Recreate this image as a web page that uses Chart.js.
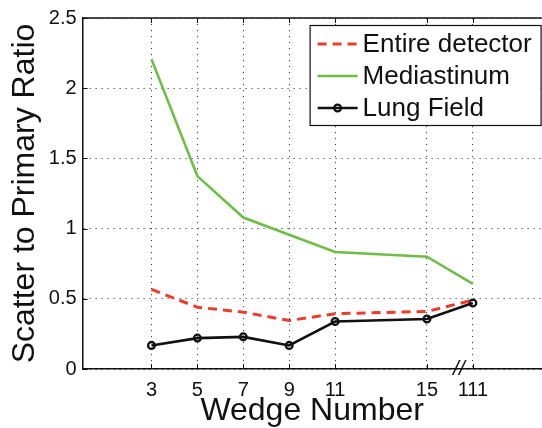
<!DOCTYPE html>
<html><head><meta charset="utf-8">
<script src="https://cdn.jsdelivr.net/npm/chart.js@4"></script>
<style>html,body{margin:0;padding:0;background:#fff;overflow:hidden}canvas{display:block}</style>
</head><body>
<canvas id="c" width="548" height="428"></canvas>
<script>
const wedgeNumbers = [3, 5, 7, 9, 11, 15, 111];
const entireDetector = [0.567, 0.44, 0.405, 0.345, 0.394, 0.41, 0.49];
const mediastinum = [2.207, 1.374, 1.079, 0.956, 0.833, 0.80, 0.607];
const lungField = [0.168, 0.22, 0.229, 0.168, 0.338, 0.356, 0.47];
const yTicks = [0, 0.5, 1, 1.5, 2, 2.5];
const yTickLabels = ['0', '0.5', '1', '1.5', '2', '2.5'];
const seriesNames = ['Entire detector', 'Mediastinum', 'Lung Field'];

// Broken x axis: wedge 111 is placed one step after 15
const lastRegular = 15, step = 2;
function axisPos(w) { return w > lastRegular ? lastRegular + step : w; }
const xTickPos = wedgeNumbers.map(axisPos);
const breakPos = lastRegular + step / 2;

const RED = 'rgb(238,60,44)', GREEN = 'rgb(110,190,70)', BLACK = '#111';
const FONT = '"Liberation Sans", Arial, Helvetica, sans-serif';

function pts(vals) { return wedgeNumbers.map((w, i) => ({ x: axisPos(w), y: vals[i] })); }

const frame = {
  id: 'frame',
  afterDraw(chart) {
    const ctx = chart.ctx, a = chart.chartArea;
    const xs = chart.scales.x, ys = chart.scales.y;
    ctx.save();
    ctx.strokeStyle = '#111';
    ctx.lineWidth = 1.5;
    ctx.beginPath();
    ctx.moveTo(a.left, a.top); ctx.lineTo(a.right, a.top);
    ctx.stroke();
    // inward tick marks
    ctx.lineWidth = 1;
    ctx.beginPath();
    xTickPos.forEach(v => {
      const px = Math.round(xs.getPixelForValue(v)) + 0.5;
      ctx.moveTo(px, a.bottom); ctx.lineTo(px, a.bottom - 5);
      ctx.moveTo(px, a.top); ctx.lineTo(px, a.top + 5);
    });
    yTicks.forEach(v => {
      const py = Math.round(ys.getPixelForValue(v)) + 0.5;
      ctx.moveTo(a.left, py); ctx.lineTo(a.left + 5, py);
    });
    ctx.stroke();
    // axis break mark
    ctx.fillStyle = '#111';
    ctx.font = 'italic 21px ' + FONT;
    ctx.textAlign = 'center';
    ctx.textBaseline = 'middle';
    ctx.fillText('//', xs.getPixelForValue(breakPos) + 9, a.bottom);

    // legend
    const bw = 231, bh = 100;
    const bx = a.left + 227, by = a.top + 7;
    ctx.fillStyle = '#fff';
    ctx.fillRect(bx, by, bw, bh);
    ctx.strokeStyle = '#111';
    ctx.lineWidth = 1.2;
    ctx.strokeRect(bx + 0.5, by + 0.5, bw, bh);
    ctx.font = '26px ' + FONT;
    ctx.textAlign = 'left';
    ctx.textBaseline = 'middle';
    chart.data.datasets.forEach((ds, i) => {
      const cy = by + 19 + i * 32;
      const x0 = bx + 8, x1 = bx + 48;
      ctx.save();
      ctx.strokeStyle = ds.borderColor;
      ctx.lineWidth = ds.borderWidth;
      ctx.setLineDash(ds.borderDash || []);
      ctx.beginPath(); ctx.moveTo(x0, cy); ctx.lineTo(x1, cy); ctx.stroke();
      ctx.setLineDash([]);
      if (ds.pointRadius > 0) {
        ctx.beginPath();
        ctx.arc((x0 + x1) / 2, cy, ds.pointRadius, 0, Math.PI * 2);
        ctx.lineWidth = ds.pointBorderWidth;
        ctx.stroke();
      }
      ctx.restore();
      ctx.fillStyle = '#111';
      ctx.fillText(ds.label, x1 + 5, cy + 1);
    });
    ctx.restore();
  }
};

new Chart(document.getElementById('c'), {
  type: 'line',
  data: {
    datasets: [
      { label: seriesNames[0], data: pts(entireDetector), borderColor: RED, borderWidth: 3,
        borderDash: [9, 6], pointRadius: 0, fill: false, tension: 0 },
      { label: seriesNames[1], data: pts(mediastinum), borderColor: GREEN, borderWidth: 2.6,
        pointRadius: 0, fill: false, tension: 0 },
      { label: seriesNames[2], data: pts(lungField), borderColor: BLACK, borderWidth: 2.6,
        pointRadius: 3.4, pointBorderWidth: 2.3, pointBorderColor: BLACK,
        pointBackgroundColor: 'rgba(0,0,0,0)', fill: false, tension: 0 }
    ]
  },
  options: {
    responsive: false,
    animation: false,
    events: [],
    layout: { padding: { top: 16, right: 3, left: 0, bottom: 0 } },
    plugins: { legend: { display: false }, tooltip: { enabled: false } },
    scales: {
      x: {
        type: 'linear', min: 0, max: 20,
        afterBuildTicks(s) { s.ticks = xTickPos.map(v => ({ value: v })); },
        afterFit(s) { s.height = 59; },
        grid: { color: '#444', lineWidth: 1, drawTicks: false },
        border: { display: true, color: '#111', width: 1.5, dash: [1.2, 4.8] },
        ticks: {
          padding: 9, color: '#111', font: { family: FONT, size: 20 }, maxRotation: 0, autoSkip: false,
          callback(v) { const i = xTickPos.indexOf(v); return i >= 0 ? String(wedgeNumbers[i]) : ''; }
        },
        title: { display: true, text: 'Wedge Number', color: '#111', font: { family: FONT, size: 32 }, padding: { top: 0, bottom: -2 } }
      },
      y: {
        min: 0, max: 2.5,
        afterBuildTicks(s) { s.ticks = yTicks.map(v => ({ value: v })); },
        afterFit(s) { s.width = 82.6; },
        grid: { color: '#444', lineWidth: 1, drawTicks: false },
        border: { display: true, color: '#111', width: 1.5, dash: [1.2, 4.8] },
        ticks: {
          padding: 6, color: '#111', font: { family: FONT, size: 20 },
          callback(v) { const i = yTicks.indexOf(v); return i >= 0 ? yTickLabels[i] : ''; }
        },
        title: { display: true, text: 'Scatter to Primary Ratio', color: '#111', font: { family: FONT, size: 32 }, padding: { top: 6, bottom: 0 } }
      }
    }
  },
  plugins: [frame]
});
</script>
</body></html>
